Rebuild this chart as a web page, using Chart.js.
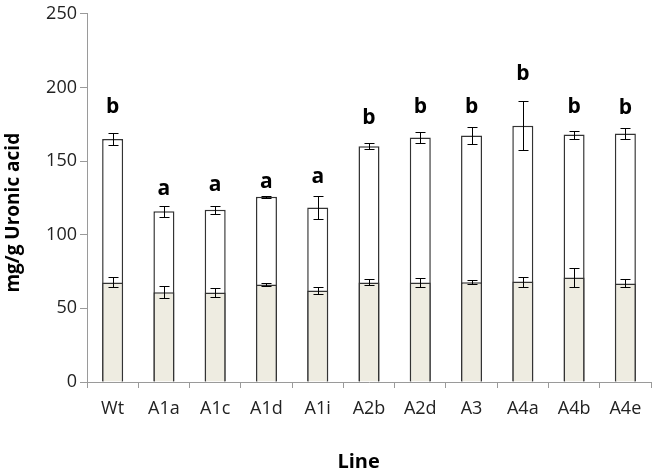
<!DOCTYPE html>
<html lang="en">
<head>
    <meta charset="UTF-8">
    <title>Uronic acid by line</title>
    <script src="https://cdn.jsdelivr.net/npm/chart.js"></script>
    <style>
        html, body { margin: 0; padding: 0; background: #fff; }
        #wrap { width: 658px; height: 475px; }
    </style>
</head>
<body>
<div id="wrap"><canvas id="uronicChart"></canvas></div>

<script>
    // values
    const lines = ['Wt', 'A1a', 'A1c', 'A1d', 'A1i', 'A2b', 'A2d', 'A3', 'A4a', 'A4b', 'A4e'];
    const totalValues = [165, 116, 117, 125.7, 118.4, 160, 166, 167.3, 174, 168, 168.7];
    const totalErrors = [3.9, 3.8, 2.7, 0.5, 7.8, 2, 3.5, 6, 16.8, 2.7, 3.7];
    const lowerValues = [67.6, 61, 60.8, 66.2, 62.2, 67.6, 67.6, 67.8, 68.2, 70.9, 66.9];
    const lowerErrors = [3.4, 4, 3.3, 1, 2.3, 2, 3, 1.2, 3.4, 6.5, 2.7];
    const letters = ['b', 'a', 'a', 'a', 'a', 'b', 'b', 'b', 'b', 'b', 'b'];
    const letterLevels = [187, 131, 134, 136, 139, 179, 187, 187, 209, 187, 186];

    const errors = [lowerErrors, totalErrors];
    const pad = n => '\u00a0'.repeat(n);  // nudges the axis titles off-centre like the original

    const errorBars = {
        id: 'errorBars',
        afterDatasetsDraw(chart) {
            const ctx = chart.ctx;
            const y = chart.scales.y;
            ctx.save();
            ctx.strokeStyle = '#000';
            ctx.lineWidth = 1;
            chart.data.datasets.forEach((ds, di) => {
                const meta = chart.getDatasetMeta(di);
                meta.data.forEach((bar, i) => {
                    const v = ds.data[i];
                    const e = errors[di][i];
                    const x = Math.round(bar.x) + 0.5;
                    const yTop = Math.round(y.getPixelForValue(v + e)) + 0.5;
                    const yBot = Math.round(y.getPixelForValue(v - e)) + 0.5;
                    ctx.beginPath();
                    ctx.moveTo(x, yTop); ctx.lineTo(x, yBot);
                    ctx.moveTo(x - 5, yTop); ctx.lineTo(x + 5, yTop);
                    ctx.moveTo(x - 5, yBot); ctx.lineTo(x + 5, yBot);
                    ctx.stroke();
                });
            });
            // significance letters
            ctx.fillStyle = '#000';
            ctx.font = 'bold 21px "Open Sans"';
            ctx.textAlign = 'center';
            ctx.textBaseline = 'middle';
            const meta = chart.getDatasetMeta(1);
            meta.data.forEach((bar, i) => {
                ctx.fillText(letters[i], bar.x, y.getPixelForValue(letterLevels[i]));
            });
            ctx.restore();
        }
    };

    new Chart(document.getElementById('uronicChart'), {
        type: 'bar',
        data: {
            labels: lines,
            datasets: [{
                label: 'Lower',
                data: lowerValues,
                backgroundColor: '#eeece1',
                borderColor: '#333',
                borderWidth: 1.5,
                categoryPercentage: 1,
                barPercentage: 0.41
            }, {
                label: 'Total',
                data: totalValues,
                backgroundColor: '#fff',
                borderColor: '#333',
                borderWidth: 1.5,
                categoryPercentage: 1,
                barPercentage: 0.41
            }]
        },
        options: {
            responsive: true,
            maintainAspectRatio: false,
            animation: false,
            layout: { padding: { top: 12, right: 7, left: 0, bottom: 0 } },
            plugins: {
                legend: { display: false },
                tooltip: { enabled: false }
            },
            scales: {
                x: {
                    stacked: true,
                    grid: { display: true, drawOnChartArea: false, offset: true, tickLength: 6, color: '#9a9a9a' },
                    border: { color: '#9a9a9a', width: 1 },
                    ticks: { color: '#222', font: { family: 'Open Sans', size: 18 }, padding: 10, maxRotation: 0 },
                    title: { display: true, text: 'Line' + pad(4), color: '#000', font: { family: 'Open Sans', size: 20, weight: 'bold' }, padding: { top: 0, bottom: 1 } },
                    afterFit(scale) { scale.height = 93; }
                },
                y: {
                    stacked: false,
                    min: 0,
                    max: 250,
                    ticks: { stepSize: 50, color: '#222', font: { family: 'Open Sans', size: 18 }, padding: 3 },
                    grid: { display: true, drawOnChartArea: false, tickLength: 7, color: '#9a9a9a' },
                    border: { color: '#9a9a9a', width: 1 },
                    title: { display: true, text: 'mg/g Uronic acid' + pad(6), color: '#000', font: { family: 'Open Sans', size: 19, weight: 'bold' }, padding: { top: 2, bottom: 0 } },
                    afterFit(scale) { scale.width = 87; }
                }
            }
        },
        plugins: [errorBars]
    });
</script>
</body>
</html>
